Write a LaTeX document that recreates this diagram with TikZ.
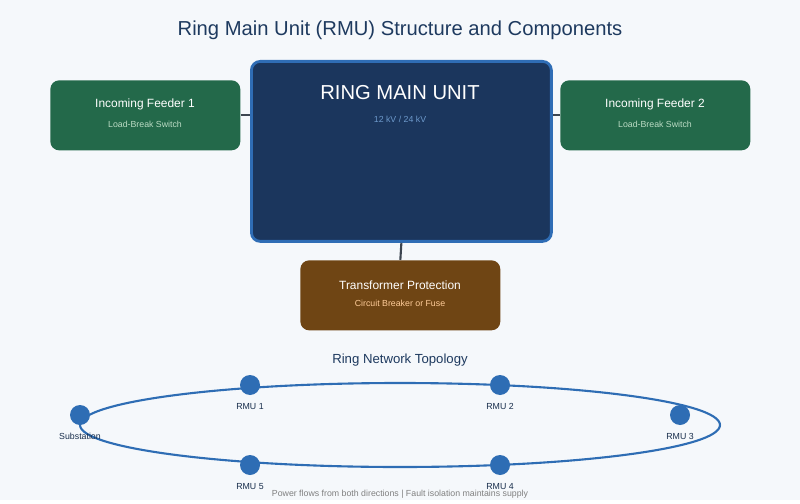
\documentclass[tikz,border=0pt]{standalone}
\usepackage{fontspec}
\setmainfont{Liberation Sans}
\usetikzlibrary{positioning}
\definecolor{bgc}{HTML}{F5F8FB}
\definecolor{titlec}{HTML}{1E3A5F}
\definecolor{rmuc}{HTML}{1B365D}
\definecolor{rmuedge}{HTML}{2F6DB5}
\definecolor{feedc}{HTML}{23694A}
\definecolor{trafoc}{HTML}{6F4514}
\definecolor{linkc}{HTML}{3C4550}
\definecolor{ringc}{HTML}{2E6DB4}
\begin{document}
\begin{tikzpicture}[x=0.02cm,y=-0.02cm,
  box/.style={rounded corners=5pt,inner sep=0pt,anchor=north west},
  head/.style={text=white,font=\fontsize{6.8}{8}\selectfont},
  sub/.style={font=\fontsize{5}{6}\selectfont},
  link/.style={draw=linkc,line width=1.2pt},
  rmu/.style={circle,fill=ringc,minimum size=0.4cm,inner sep=0pt},
  tag/.style={text=titlec!80!black,font=\fontsize{5}{6}\selectfont}]
  \fill[bgc] (0,0) rectangle (800,500);
  \node[text=titlec,font=\fontsize{11.5}{13}\selectfont] (title) at (400,30) {Ring Main Unit (RMU) Structure and Components};
  % boxes
  \node[box,fill=rmuc,draw=rmuedge,line width=1.6pt,minimum width=6cm,minimum height=3.6cm] (unit) at (250,60) {};
  \node[box,fill=feedc,minimum width=3.8cm,minimum height=1.4cm] (feedA) at (50,80) {};
  \node[box,fill=feedc,minimum width=3.8cm,minimum height=1.4cm] (feedB) at (560,80) {};
  \node[box,fill=trafoc,minimum width=4cm,minimum height=1.4cm] (trafo) at (300,260) {};
  % links
  \draw[link] (feedA.east) -- (unit.west |- feedA.east);
  \draw[link] (feedB.west) -- (unit.east |- feedB.west);
  \draw[link] (unit.south) -- (trafo.north);
  % texts
  \node[text=white,font=\fontsize{11.5}{13}\selectfont] (unitname) at (400,93) {RING MAIN UNIT};
  \node[sub,text=rmuedge!70!white] (volt) at (400,119) {12 kV / 24 kV};
  \node[head] (feedAname) at (145,104) {Incoming Feeder 1};
  \node[sub,text=green!20!feedc!30!white] (feedAsub) at (145,124) {Load-Break Switch};
  \node[head] (feedBname) at (655,104) {Incoming Feeder 2};
  \node[sub,text=green!20!feedc!30!white] (feedBsub) at (655,124) {Load-Break Switch};
  \node[head] (trafoname) at (400,285) {Transformer Protection};
  \node[sub,text=orange!40!white] (trafosub) at (400,303) {Circuit Breaker or Fuse};
  % ring network
  \node[text=titlec,font=\fontsize{7.5}{9}\selectfont] (ringtitle) at (400,360) {Ring Network Topology};
  \draw[ringc,line width=1.2pt] (400,425) ellipse [x radius=320,y radius=42];
  \foreach \n/\x/\y/\t in {sub/80/415/Substation,r1/250/385/RMU 1,r2/500/385/RMU 2,
      r3/680/415/RMU 3,r4/500/465/RMU 4,r5/250/465/RMU 5}
  {
    \node[rmu] (\n) at (\x,\y) {};
    \node[tag,below=1pt of \n] (\n-tag) {\t};
  }
  \node[text=gray,font=\fontsize{5}{6}\selectfont] (note) at (400,494) {Power flows from both directions | Fault isolation maintains supply};
\end{tikzpicture}
\end{document}
